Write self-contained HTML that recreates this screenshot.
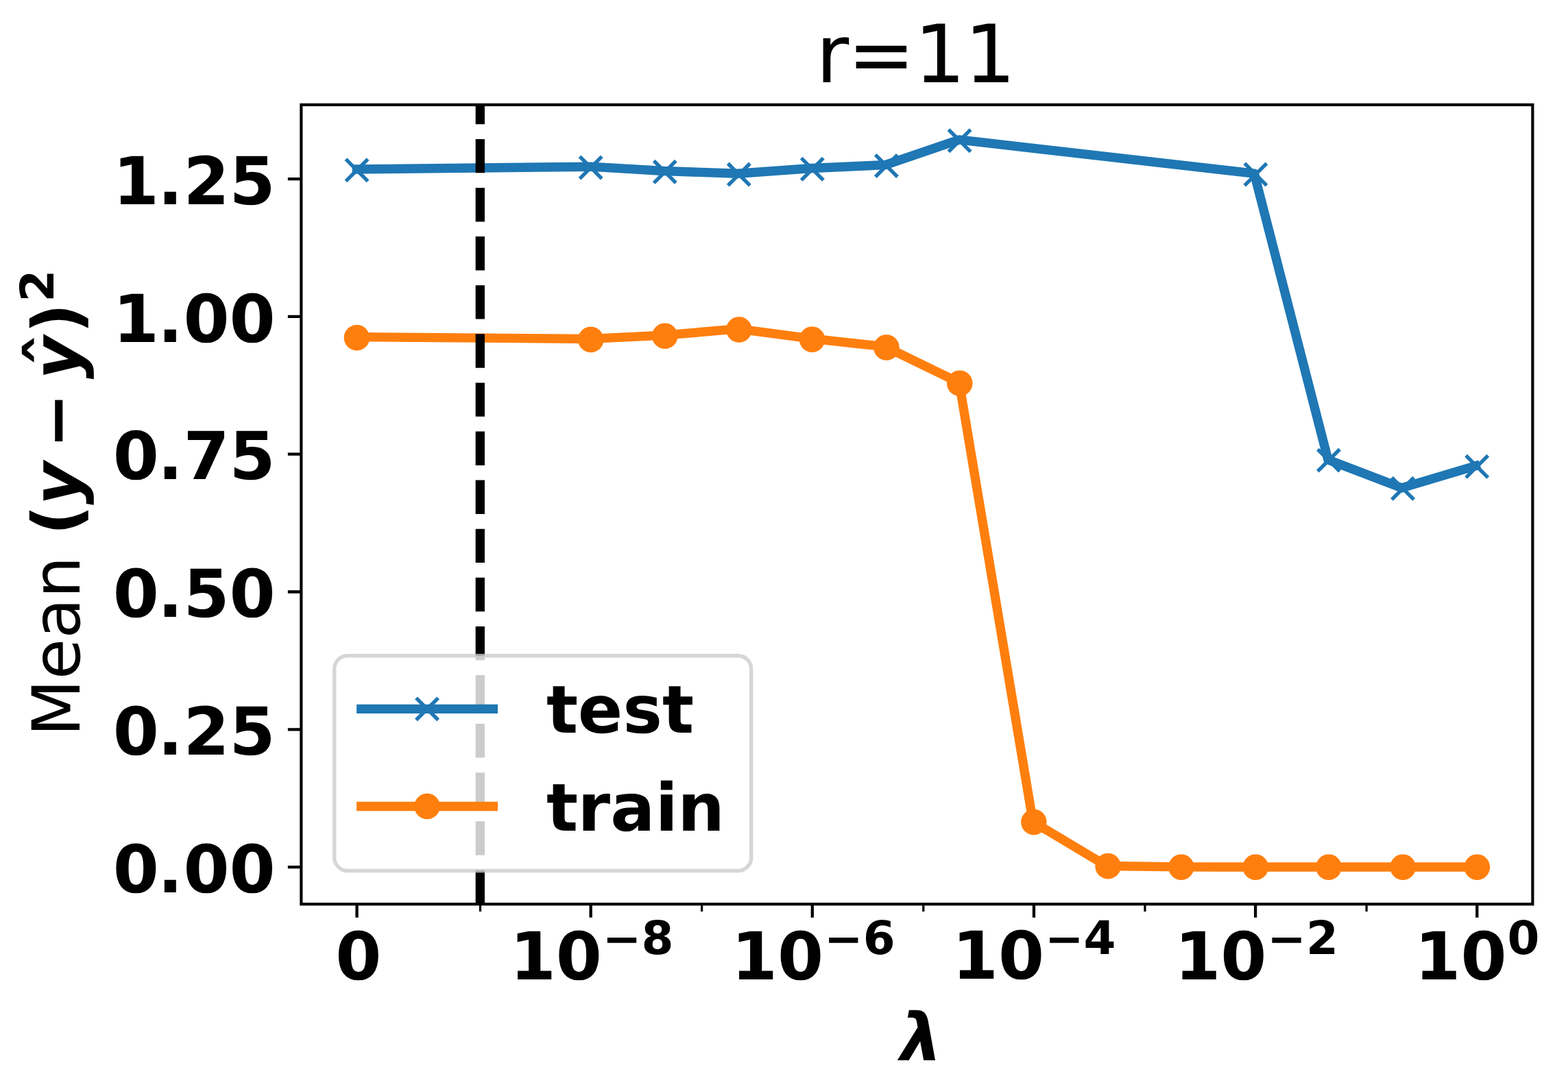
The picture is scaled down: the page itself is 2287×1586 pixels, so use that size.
<!DOCTYPE html>
<html lang="en"><head><meta charset="utf-8"><title>r=11</title>
<style>html,body{margin:0;padding:0;background:#fff}body{width:2287px;height:1586px;overflow:hidden}svg{display:block}text{font-family:'DejaVu Sans','Liberation Sans',sans-serif;fill:#000;text-rendering:geometricPrecision}</style>
</head><body>
<svg width="2287" height="1586" viewBox="0 0 2287 1586" role="img" aria-label="r=11: mean squared error versus lambda for test and train">
<rect x="0" y="0" width="2287" height="1586" fill="#fff"/>
<defs><clipPath id="ax"><rect x="439.35" y="152.9" width="1796.05" height="1166.3"/></clipPath></defs>
<g clip-path="url(#ax)">
<polyline points="520.35,246.98 861.05,243.18 968.64,249.49 1076.23,253.29 1183.83,245.48 1291.42,240.58 1399.01,203.94 1829.37,253.19 1936.96,670.71 2044.55,711.95 2152.14,679.82" fill="none" stroke="#1f77b4" stroke-width="13.4" stroke-linejoin="round" stroke-linecap="square"/>
<path d="M504.42 232.22l32.17 32.17M504.42 264.38l32.17 -32.17M845.62 228.42l32.17 32.17M845.62 260.58l32.17 -32.17M953.72 234.72l32.17 32.17M953.72 266.88l32.17 -32.17M1061.72 238.52l32.17 32.17M1061.72 270.68l32.17 -32.17M1168.72 230.72l32.17 32.17M1168.72 262.88l32.17 -32.17M1276.82 225.82l32.17 32.17M1276.82 257.98l32.17 -32.17M1383.52 189.22l32.17 32.17M1383.52 221.38l32.17 -32.17M1815.32 238.42l32.17 32.17M1815.32 270.58l32.17 -32.17M1921.92 655.52l32.17 32.17M1921.92 687.68l32.17 -32.17M2030.02 696.72l32.17 32.17M2030.02 728.88l32.17 -32.17M2138.12 664.62l32.17 32.17M2138.12 696.78l32.17 -32.17" fill="none" stroke="#1f77b4" stroke-width="5.36"/>
<polyline points="520.35,491.63 861.05,494.43 968.64,489.13 1076.23,479.92 1183.83,494.13 1291.42,505.94 1399.01,558.29 1506.6,1199.13 1614.19,1263.45 1721.78,1264.85 1829.37,1265 1936.96,1265 2044.55,1265 2152.14,1265" fill="none" stroke="#ff7f0e" stroke-width="13.4" stroke-linejoin="round" stroke-linecap="square"/>
<circle cx="520.4" cy="492.7" r="16.08" fill="#ff7f0e" stroke="#ff7f0e" stroke-width="5.36"/>
<circle cx="861.7" cy="495.5" r="16.08" fill="#ff7f0e" stroke="#ff7f0e" stroke-width="5.36"/>
<circle cx="969.8" cy="490.2" r="16.08" fill="#ff7f0e" stroke="#ff7f0e" stroke-width="5.36"/>
<circle cx="1077.9" cy="481" r="16.08" fill="#ff7f0e" stroke="#ff7f0e" stroke-width="5.36"/>
<circle cx="1184.5" cy="495.2" r="16.08" fill="#ff7f0e" stroke="#ff7f0e" stroke-width="5.36"/>
<circle cx="1292.9" cy="507" r="16.08" fill="#ff7f0e" stroke="#ff7f0e" stroke-width="5.36"/>
<circle cx="1399.8" cy="559.3" r="16.08" fill="#ff7f0e" stroke="#ff7f0e" stroke-width="5.36"/>
<circle cx="1507.9" cy="1199.5" r="16.08" fill="#ff7f0e" stroke="#ff7f0e" stroke-width="5.36"/>
<circle cx="1616.1" cy="1263.75" r="16.08" fill="#ff7f0e" stroke="#ff7f0e" stroke-width="5.36"/>
<circle cx="1722.9" cy="1265.15" r="16.08" fill="#ff7f0e" stroke="#ff7f0e" stroke-width="5.36"/>
<circle cx="1831.3" cy="1265.3" r="16.08" fill="#ff7f0e" stroke="#ff7f0e" stroke-width="5.36"/>
<circle cx="1938" cy="1265.3" r="16.08" fill="#ff7f0e" stroke="#ff7f0e" stroke-width="5.36"/>
<circle cx="2046.2" cy="1265.3" r="16.08" fill="#ff7f0e" stroke="#ff7f0e" stroke-width="5.36"/>
<circle cx="2154.4" cy="1265.3" r="16.08" fill="#ff7f0e" stroke="#ff7f0e" stroke-width="5.36"/>
<path d="M700.28 1318.8V152.9" fill="none" stroke="#000" stroke-width="13.3" stroke-dasharray="49.4 21.7"/>
</g>
<path d="M520.55 1319.2v19.5M861.66 1319.2v19.5M1184.82 1319.2v19.5M1507.98 1319.2v19.5M1831.14 1319.2v19.5M2154.3 1319.2v19.5M439.35 1265.1h-19.5M439.35 1064.3h-19.5M439.35 863.5h-19.5M439.35 662.7h-19.5M439.35 461.9h-19.5M439.35 261.1h-19.5" fill="none" stroke="#000" stroke-width="4.29"/>
<path d="M700.48 1319.2v10.72M1023.64 1319.2v10.72M1346.8 1319.2v10.72M1669.96 1319.2v10.72M1993.12 1319.2v10.72" fill="none" stroke="#000" stroke-width="3.22"/>
<rect x="439.35" y="152.9" width="1796.05" height="1166.3" fill="none" stroke="#000" stroke-width="4.2" stroke-linejoin="miter"/>
<g font-weight="700" font-size="96.5">
<text x="164.81 229.95 267.61 334.46" y="1301.77">0.00</text>
<text x="164.81 229.95 267.61 334.46" y="1100.97">0.25</text>
<text x="164.81 229.95 267.61 334.46" y="900.17">0.50</text>
<text x="164.81 229.95 267.61 334.46" y="699.37">0.75</text>
<text x="164.81 229.95 267.61 334.46" y="498.57">1.00</text>
<text x="164.81 229.95 267.61 334.46" y="297.77">1.25</text>
<text x="522.85" y="1428.9" text-anchor="middle">0</text>
<text><tspan x="743.66" y="1429.1">10</tspan><tspan x="878.87" y="1392.8" font-size="67.55">−</tspan><tspan x="935.47" y="1391.9" font-size="67.55">8</tspan></text>
<text><tspan x="1066.82" y="1429.1">10</tspan><tspan x="1202.03" y="1392.8" font-size="67.55">−</tspan><tspan x="1258.63" y="1391.9" font-size="67.55">6</tspan></text>
<text><tspan x="1388.78" y="1428.1">10</tspan><tspan x="1523.99" y="1392.8" font-size="67.55">−</tspan><tspan x="1580.59" y="1392.05" font-size="67.55">4</tspan></text>
<text><tspan x="1713.14" y="1429.1">10</tspan><tspan x="1848.35" y="1392.8" font-size="67.55">−</tspan><tspan x="1904.95" y="1391.9" font-size="67.55">2</tspan></text>
<text><tspan x="2063.36" y="1429.1">10</tspan><tspan x="2198.58" y="1391.7" font-size="67.55">0</tspan></text>
</g>
<text x="1313" y="1547" font-weight="700" font-style="oblique" font-size="96.5">λ</text>
<text transform="translate(115.6 1074.4) rotate(-90)" font-size="96.5"><tspan x="0" y="0">Mean </tspan><tspan x="293.6" y="0" font-weight="700">(</tspan><tspan x="337.7" y="0" font-weight="700" font-style="oblique">y</tspan><tspan x="420.2" y="0" font-weight="700">−</tspan><tspan x="521.2" y="0" font-weight="700" font-style="oblique">y</tspan><tspan x="539.3" y="-6.5" font-weight="700">ˆ</tspan><tspan x="587.9" y="0" font-weight="700">)</tspan><tspan x="633.9" y="-38.1" font-size="67.55" font-weight="700">2</tspan></text>
<text x="1189.9 1236.3 1333.4 1406.8" y="120.3" font-size="117.3">r=11</text>
<rect x="487.7" y="956.8" width="608" height="313.7" rx="19.3" ry="19.3" fill="#fff" fill-opacity="0.8" stroke="#ccc" stroke-opacity="0.8" stroke-width="5.36"/>
<path d="M526.8 1034.4H719.3" stroke="#1f77b4" stroke-width="13.4" stroke-linecap="square" fill="none"/>
<path d="M606.97 1018.32l32.17 32.17M606.97 1050.48l32.17 -32.17" fill="none" stroke="#1f77b4" stroke-width="5.36"/>
<path d="M526.8 1176.5H719.3" stroke="#ff7f0e" stroke-width="13.4" stroke-linecap="square" fill="none"/>
<circle cx="623.05" cy="1176.5" r="16.08" fill="#ff7f0e" stroke="#ff7f0e" stroke-width="5.36"/>
<g font-weight="700" font-size="96.5"><text x="797 842.7 908.6 966" y="1069.4">test</text><text x="797 842.4 890.3 955.8 988.2" y="1212.1">train</text></g>
</svg>
</body></html>
